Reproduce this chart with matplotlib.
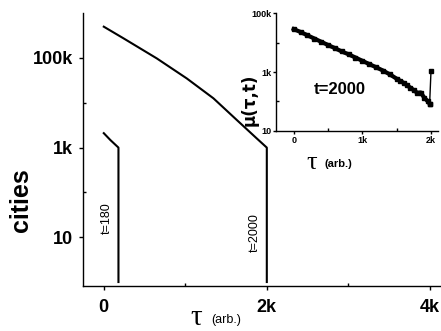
import matplotlib
matplotlib.use("Agg")
import matplotlib.pyplot as plt
from matplotlib.ticker import FixedLocator, NullFormatter

plt.rcParams['font.family'] = ['Liberation Sans', 'DejaVu Sans']

# ---- data: main panel (cities vs tau) ----
tau_2000 = [0, 240, 650, 1018, 1345, 1632, 1877, 2000, 2000]
cities_2000 = [5.0e5, 2.76e5, 9.8e4, 3.5e4, 1.26e4, 4130, 1600, 1000, 1]
tau_180 = [0, 80, 180, 180]
cities_180 = [2100, 1480, 1000, 1]

# ---- data: inset (mu(tau,t) for t=2000) ----
tau_inset = [0, 100, 200, 300, 400, 500, 600, 700, 800, 900, 1000, 1100,
             1200, 1300, 1400, 1500, 1550, 1600, 1650, 1700, 1750, 1800,
             1850, 1900, 1950, 1980, 2000]
mu_inset = [29000, 23000, 17800, 13800, 10700, 8300, 6500, 5000, 4000,
            3100, 2400, 1860, 1450, 1120, 830, 590, 500, 430, 355, 290,
            240, 195, 200, 135, 102, 83, 1070]

main_xticks = [0, 2000, 4000]
main_xlabels = ['0', '2k', '4k']
main_yticks = [10, 1000, 100000]
main_ylabels = ['10', '1k', '100k']
inset_xticks = [0, 1000, 2000]
inset_xlabels = ['0', '1k', '2k']
inset_yticks = [10, 1000, 100000]
inset_ylabels = ['10', '1k', '100k']

fig = plt.figure(figsize=(4.41, 3.31), dpi=100)
fig.patch.set_facecolor('white')

# ---- main axes ----
ax = fig.add_axes([83/441, 1-286/331, 358/441, 273/331])
ax.plot(tau_2000, cities_2000, color='black', lw=1.5)
ax.plot(tau_180, cities_180, color='black', lw=1.5)
ax.set_yscale('log')
ax.set_xlim(-255, 4137)
ax.set_ylim(0.815, 1.01e6)
for s in ['top', 'right']:
    ax.spines[s].set_visible(False)
for s in ['left', 'bottom']:
    ax.spines[s].set_linewidth(1.0)
ax.xaxis.set_major_locator(FixedLocator(main_xticks))
ax.set_xticklabels(main_xlabels)
ax.xaxis.set_minor_locator(FixedLocator([1000, 3000]))
ax.yaxis.set_major_locator(FixedLocator(main_yticks))
ax.set_yticklabels(main_ylabels)
ax.yaxis.set_minor_locator(FixedLocator([100, 10000]))
ax.yaxis.set_minor_formatter(NullFormatter())
ax.tick_params(which='major', direction='out', length=3, width=1.0,
               labelsize=13, pad=4)
ax.tick_params(axis='x', which='major', pad=6)
ax.tick_params(which='minor', direction='in', length=2, width=1.0)
for lab in ax.get_xticklabels() + ax.get_yticklabels():
    lab.set_fontweight('bold')

ax.set_ylabel('cities', fontsize=18, fontweight='bold')
ax.yaxis.set_label_coords(-0.14, 0.316)
ax.text(0.316, -0.142, 'τ', transform=ax.transAxes, ha='center', va='baseline',
        fontsize=21, family=['Liberation Serif', 'DejaVu Serif'])
ax.text(0.357, -0.125, '(arb.)', transform=ax.transAxes, ha='left', va='center',
        fontsize=9)

ax.text(40, 27, 't=180', rotation=90, ha='center', va='center', fontsize=9)
ax.text(1855, 13, 't=2000', rotation=90, ha='center', va='center', fontsize=9)

# ---- inset ----
ins = fig.add_axes([276/441, 1-130.7/331, 162/441, 117.4/331])
ins.patch.set_alpha(0)
ins.plot(tau_inset[:-1], mu_inset[:-1], color='black', lw=3.0, marker='s', ms=2.5)
ins.plot(tau_inset[-2:], mu_inset[-2:], color='black', lw=1.0, marker='s', ms=2.5)
ins.set_yscale('log')
ins.set_xlim(-258, 2102)
ins.set_ylim(10, 1e5)
for s in ['top', 'right']:
    ins.spines[s].set_visible(False)
for s in ['left', 'bottom']:
    ins.spines[s].set_linewidth(1.0)
ins.xaxis.set_major_locator(FixedLocator(inset_xticks))
ins.set_xticklabels(inset_xlabels)
ins.xaxis.set_minor_locator(FixedLocator([500, 1500]))
ins.yaxis.set_major_locator(FixedLocator(inset_yticks))
ins.set_yticklabels(inset_ylabels)
ins.yaxis.set_minor_locator(FixedLocator([100, 10000]))
ins.yaxis.set_minor_formatter(NullFormatter())
ins.tick_params(which='major', direction='out', length=2.5, width=1.0,
                labelsize=6.5, pad=1)
ins.tick_params(which='minor', direction='in', length=2, width=1.0)
for lab in ins.get_xticklabels() + ins.get_yticklabels():
    lab.set_fontweight('bold')

ins.set_ylabel('μ(τ,t)', fontsize=12, fontweight='bold',
               family=['DejaVu Sans'])
ins.yaxis.set_label_coords(-0.11, 0.26)
ins.text(0.222, -0.275, 'τ', transform=ins.transAxes, ha='center', va='center',
         fontsize=19, family=['Liberation Serif', 'DejaVu Serif'])
ins.text(0.30, -0.285, '(arb.)', transform=ins.transAxes, ha='left', va='center',
         fontsize=8, fontweight='bold')
ins.text(0.395, 0.347, 't=2000', transform=ins.transAxes, ha='center',
         va='center', fontsize=12, fontweight='bold')

fig.savefig('out.png', dpi=100)
